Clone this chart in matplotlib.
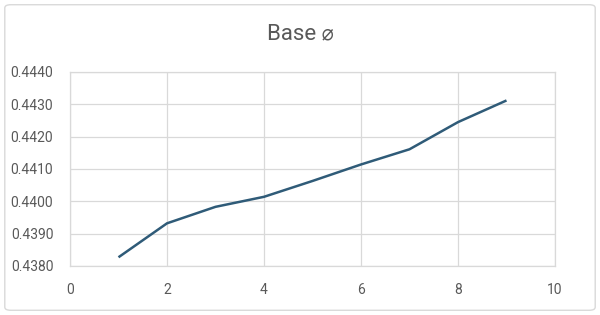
import matplotlib
matplotlib.use("Agg")
import matplotlib.pyplot as plt
from matplotlib.patches import FancyBboxPatch

x_vals = [1, 2, 3, 4, 5, 6, 7, 8, 9]
y_vals = [0.43827, 0.43932, 0.43983, 0.44014, 0.44063, 0.44114, 0.44161, 0.44245, 0.44312]
x_ticks = [0, 2, 4, 6, 8, 10]
y_ticks = [0.4380, 0.4390, 0.4400, 0.4410, 0.4420, 0.4430, 0.4440]
title = "Base \u2300"

fam = ['Roboto', 'DejaVu Sans']
plt.rcParams['font.family'] = fam
plt.rcParams['font.stretch'] = 'condensed'

fig = plt.figure(figsize=(6, 3.15), dpi=100)
fig.patch.set_facecolor('white')
border = FancyBboxPatch((0.008, 0.015), 0.984, 0.97, boxstyle="round,pad=0,rounding_size=0.01",
                        transform=fig.transFigure, fill=False, edgecolor='#D9D9D9', linewidth=1)
fig.patches.append(border)

ax = fig.add_axes([70/600, 1 - 266/315, (555-70)/600, (266-72)/315])
ax.plot(x_vals, y_vals, color='#2F5B78', linewidth=1.8, solid_capstyle='butt')
ax.set_xlim(0, 10)
ax.set_ylim(0.4380, 0.4440)
ax.set_xticks(x_ticks)
ax.set_yticks(y_ticks)
ax.set_yticklabels([f"{v:.4f}" for v in y_ticks])
ax.grid(True, color='#D9D9D9', linewidth=0.9)
ax.set_axisbelow(True)
for s in ax.spines.values():
    s.set_color('#D9D9D9')
    s.set_linewidth(0.9)
ax.tick_params(length=0, colors='#595959', labelsize=10)
ax.tick_params(axis='y', pad=12)
ax.tick_params(axis='x', pad=12)
fig.text(0.5, 1 - 34/315, title, ha='center', va='center', fontsize=16, color='#595959')
fig.savefig("out.png", dpi=100)
